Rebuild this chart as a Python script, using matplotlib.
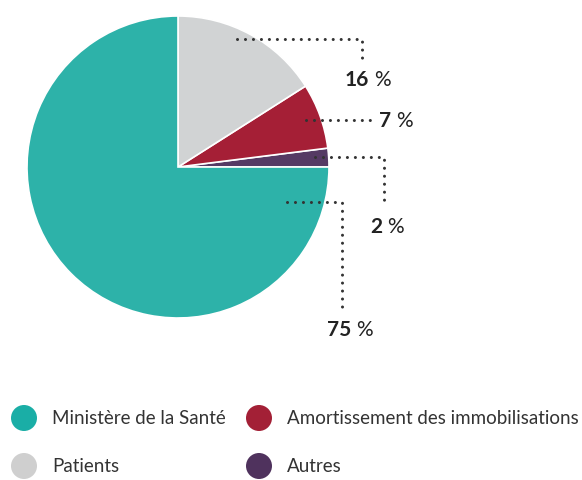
import matplotlib
matplotlib.use("Agg")
import matplotlib.pyplot as plt
from matplotlib.patches import Circle

plt.rcParams['font.family'] = ['Lato', 'DejaVu Sans']

# Data
categories = ["Ministère de la Santé", "Patients", "Amortissement des immobilisations", "Autres"]
values = [75, 16, 7, 2]
colors = ["#2db2a9", "#d1d3d4", "#a51f36", "#553a64"]
legend_colors = ["#1aaea6", "#cfcfcf", "#a32036", "#4f325d"]
pct_labels = ["75", "16", "7", "2"]

W, H = 582, 480
fig = plt.figure(figsize=(W / 100, H / 100), dpi=100)
ax = fig.add_axes([0, 0, 1, 1])

def Y(y):
    return H - y

cx, cy, r = 178, 167, 151

# pie drawn counterclockwise from 3 o'clock: Autres, Amortissement, Patients, Ministère
order = [3, 2, 1, 0]
ax.pie([values[i] for i in order], colors=[colors[i] for i in order],
       startangle=0, counterclock=True, center=(cx, Y(cy)), radius=r,
       wedgeprops=dict(edgecolor='white', linewidth=1.2), frame=True)
ax.set_xlim(0, W)
ax.set_ylim(0, H)
ax.set_aspect('equal')
ax.axis('off')

dot = dict(color='#333333', linewidth=2.2, linestyle=(0, (0.01, 2.6)),
           dash_capstyle='round', solid_capstyle='round')

# leader lines (pixel coordinates of the reference)
leaders = {
    "16": [(237, 39), (362, 39), (362, 61)],
    "7": [(306, 120), (373, 120)],
    "2": [(315, 157), (384, 157), (384, 204)],
    "75": [(287, 202), (342, 202), (342, 308)],
}
label_pos = {
    "16": (369, 80),
    "7": (391, 121),
    "2": (382, 227),
    "75": (351, 330),
}
for lab in pct_labels:
    pts = leaders[lab]
    ax.plot([p[0] for p in pts], [Y(p[1]) for p in pts], **dot)
    x, y = label_pos[lab]
    ax.text(x, Y(y), lab, ha='right', va='center', fontsize=15,
            fontweight='bold', color='#222222')
    ax.text(x + 5, Y(y), "%", ha='left', va='center', fontsize=15,
            color='#222222')

# legend
leg_pos = [(24, 418), (24, 466), (259, 418), (259, 466)]
for i, cat in enumerate(categories):
    x, y = leg_pos[i]
    ax.add_patch(Circle((x, Y(y)), 13, color=legend_colors[i], lw=0))
    ax.text(x + 28, Y(y), cat, ha='left', va='center', fontsize=13.5,
            color='#333333')

fig.savefig("out.png", dpi=100)
